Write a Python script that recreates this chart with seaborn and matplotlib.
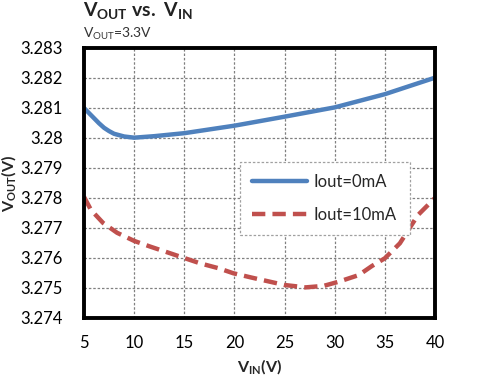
import matplotlib
matplotlib.use("Agg")
import matplotlib.pyplot as plt
import seaborn as sns
import pandas as pd

# ---- data ----
vin_0mA = [5, 5.5, 6, 6.5, 7, 7.5, 8, 9, 10, 12, 15, 20, 25, 30, 35, 40]
vout_0mA = [3.28100, 3.28083, 3.28066, 3.28049, 3.28034, 3.28023, 3.28014,
            3.28005, 3.28001, 3.28006, 3.28016, 3.28041, 3.28071, 3.28102,
            3.28146, 3.28201]
vin_10mA = [5, 5.7, 6.9, 8.3, 10, 11.6, 13.3, 14.9, 16.6, 18.4, 19.9, 21.8,
            25, 27.1, 28.9, 30.4, 32.4, 33.7, 35, 36.5, 38.3, 40]
vout_10mA = [3.27804, 3.27760, 3.27717, 3.27684, 3.27657, 3.27638, 3.27619,
             3.27601, 3.27582, 3.27566, 3.27549, 3.27534, 3.27510, 3.27502,
             3.27507, 3.27521, 3.27543, 3.27573, 3.27599, 3.27649, 3.27743,
             3.27800]
series_names = ["Iout=0mA", "Iout=10mA"]
x_ticks = [5, 10, 15, 20, 25, 30, 35, 40]
y_ticks = [3.274, 3.275, 3.276, 3.277, 3.278, 3.279, 3.280, 3.281, 3.282, 3.283]
y_tick_labels = ["3.274", "3.275", "3.276", "3.277", "3.278", "3.279", "3.28",
                 "3.281", "3.282", "3.283"]

df = pd.concat([
    pd.DataFrame({"VIN": vin_0mA, "VOUT": vout_0mA, "series": series_names[0]}),
    pd.DataFrame({"VIN": vin_10mA, "VOUT": vout_10mA, "series": series_names[1]}),
], ignore_index=True)

sns.set_theme(style="white")
plt.rcParams["font.family"] = ["Lato", "DejaVu Sans"]
plt.rcParams["mathtext.fontset"] = "custom"
plt.rcParams["mathtext.rm"] = "Lato"
plt.rcParams["mathtext.bf"] = "Lato:bold"
plt.rcParams["mathtext.it"] = "Lato"

fig = plt.figure(figsize=(4.92, 3.92), dpi=100)
ax = fig.add_axes([0.1707, 0.1888, 0.7134, 0.6888])

palette = {series_names[0]: "#4F81BD", series_names[1]: "#C0504D"}
sns.lineplot(data=df, x="VIN", y="VOUT", hue="series", style="series",
             palette=palette, dashes={series_names[0]: "", series_names[1]: (3, 1.6)},
             linewidth=3.2, ax=ax, legend=True, sort=True)

ax.set_xlim(5, 40)
ax.set_ylim(3.274, 3.283)
ax.set_xticks(x_ticks)
ax.set_xticklabels([str(t) for t in x_ticks])
ax.set_yticks(y_ticks)
ax.set_yticklabels(y_tick_labels)
ax.tick_params(axis="both", labelsize=12, colors="black", length=0)
ax.tick_params(axis="y", pad=15)
ax.tick_params(axis="x", pad=12)

ax.grid(True, color="#808080", linestyle=(0, (2, 1.5)), linewidth=0.9)
for s in ax.spines.values():
    s.set_visible(True)
    s.set_color("black")
    s.set_linewidth(2.8)

ax.set_xlabel(r"$\mathbf{V_{IN}(V)}$", fontsize=11.5, labelpad=5)
ax.set_ylabel(r"$\mathbf{V_{OUT}(V)}$", fontsize=11.5, labelpad=2)

fig.text(0.1687, 0.972, r"$\mathbf{V_{OUT}}$ $\mathbf{vs.}$ $\mathbf{V_{IN}}$", fontsize=14,
         ha="left", va="center", color="#222222")
fig.text(0.1687, 0.914, r"$\mathrm{V_{OUT}}$=3.3V", fontsize=10,
         ha="left", va="center", color="#333333")

leg = ax.legend(title=None, loc="upper left", bbox_to_anchor=(0.42, 0.61),
                fontsize=12, handlelength=3.3, frameon=True, fancybox=False,
                borderpad=0.75, labelspacing=1.0, handletextpad=0.4)
leg.get_frame().set_edgecolor("#A0A0A0")
leg.get_frame().set_linestyle((0, (2, 1.5)))
leg.get_frame().set_linewidth(0.9)
leg.get_frame().set_alpha(1)

fig.savefig("out.png", dpi=100)
